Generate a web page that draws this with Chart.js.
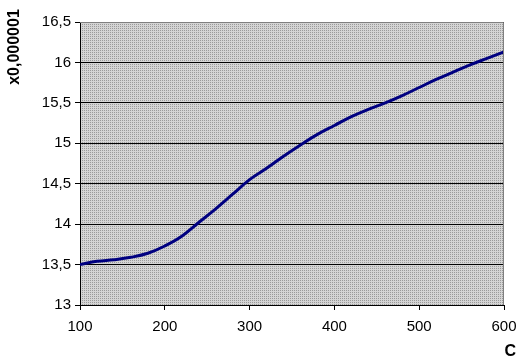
<!DOCTYPE html>
<html>
<head>
<meta charset="utf-8">
<script src="https://cdn.jsdelivr.net/npm/chart.js@4"></script>
<style>
  html, body { margin: 0; padding: 0; background: #fff; }
  #wrap { width: 519px; height: 364px; position: relative; }
</style>
</head>
<body>
<div id="wrap"><canvas id="chart" width="519" height="364"></canvas></div>
<script>
// ===== Data =====
const temps = [100, 120, 140, 160, 180, 200, 220, 240, 260, 280, 300, 320, 340, 360, 380,
               400, 420, 440, 460, 480, 500, 520, 540, 560, 580, 600];
const values = [13.50, 13.54, 13.56, 13.59, 13.64, 13.73, 13.85, 14.02, 14.19, 14.37, 14.55,
                14.69, 14.84, 14.98, 15.11, 15.22, 15.33, 15.42, 15.50, 15.59, 15.69, 15.79,
                15.88, 15.97, 16.05, 16.13];
const xTicks = [100, 200, 300, 400, 500, 600];
const yTicks = [13, 13.5, 14, 14.5, 15, 15.5, 16, 16.5];
const xTitle = 'C';
const yTitle = 'x0,000001';

const FONT = '"Liberation Sans", Arial, sans-serif';

// dotted grey fill like the old spreadsheet plot area
function makePattern(ctx) {
  const c = document.createElement('canvas');
  c.width = 2; c.height = 2;
  const p = c.getContext('2d');
  p.fillStyle = '#d4d4d4';
  p.fillRect(0, 0, 2, 2);
  p.fillStyle = '#9a9a9a';
  p.fillRect(0, 0, 1, 1);
  return ctx.createPattern(c, 'repeat');
}

const plotBg = {
  id: 'plotBg',
  beforeDraw(chart) {
    const { ctx, chartArea: a } = chart;
    ctx.save();
    ctx.fillStyle = makePattern(ctx);
    ctx.fillRect(a.left, a.top, a.right - a.left, a.bottom - a.top);
    ctx.restore();
  },
  afterDraw(chart) {
    const { ctx, chartArea: a } = chart;
    ctx.save();
    // grey border top / right
    ctx.strokeStyle = '#808080';
    ctx.lineWidth = 1;
    ctx.beginPath();
    ctx.moveTo(a.left, a.top + 0.5);
    ctx.lineTo(a.right - 0.5, a.top + 0.5);
    ctx.lineTo(a.right - 0.5, a.bottom);
    ctx.stroke();
    // axis titles
    ctx.fillStyle = '#000';
    ctx.font = 'bold 16px ' + FONT;
    ctx.textAlign = 'right';
    ctx.textBaseline = 'middle';
    ctx.fillText(xTitle, 516, 352);
    ctx.translate(15, 47);
    ctx.rotate(-Math.PI / 2);
    ctx.textAlign = 'center';
    ctx.fillText(yTitle, 0, 0);
    ctx.restore();
  }
};

const ctx = document.getElementById('chart').getContext('2d');
new Chart(ctx, {
  type: 'line',
  data: {
    datasets: [{
      data: temps.map((t, i) => ({ x: t, y: values[i] })),
      borderColor: '#000080',
      borderWidth: 3,
      tension: 0.4,
      pointRadius: 0,
      fill: false
    }]
  },
  options: {
    responsive: false,
    animation: false,
    devicePixelRatio: 1,
    layout: { padding: { top: 22, right: 15, left: 0, bottom: 0 } },
    plugins: { legend: { display: false }, tooltip: { enabled: false } },
    scales: {
      x: {
        type: 'linear',
        min: 100, max: 600,
        afterFit: s => { s.height = 59; s.paddingLeft = 0; s.paddingRight = 0; },
        afterBuildTicks: s => { s.ticks = xTicks.map(v => ({ value: v })); },
        grid: { drawOnChartArea: false, drawTicks: true, tickLength: 5, color: '#000' },
        border: { color: '#000', width: 1 },
        ticks: { color: '#000', padding: 8, font: { family: FONT, size: 15 }, maxRotation: 0 }
      },
      y: {
        min: 13, max: 16.5,
        afterFit: s => { s.width = 80; s.paddingTop = 0; s.paddingBottom = 0; },
        afterBuildTicks: s => { s.ticks = yTicks.map(v => ({ value: v })); },
        grid: { color: '#000', lineWidth: 1, tickLength: 5 },
        border: { color: '#000', width: 1 },
        ticks: {
          color: '#000', padding: 4, font: { family: FONT, size: 15 },
          callback: v => String(v).replace('.', ',')
        }
      }
    }
  },
  plugins: [plotBg]
});
</script>
</body>
</html>
